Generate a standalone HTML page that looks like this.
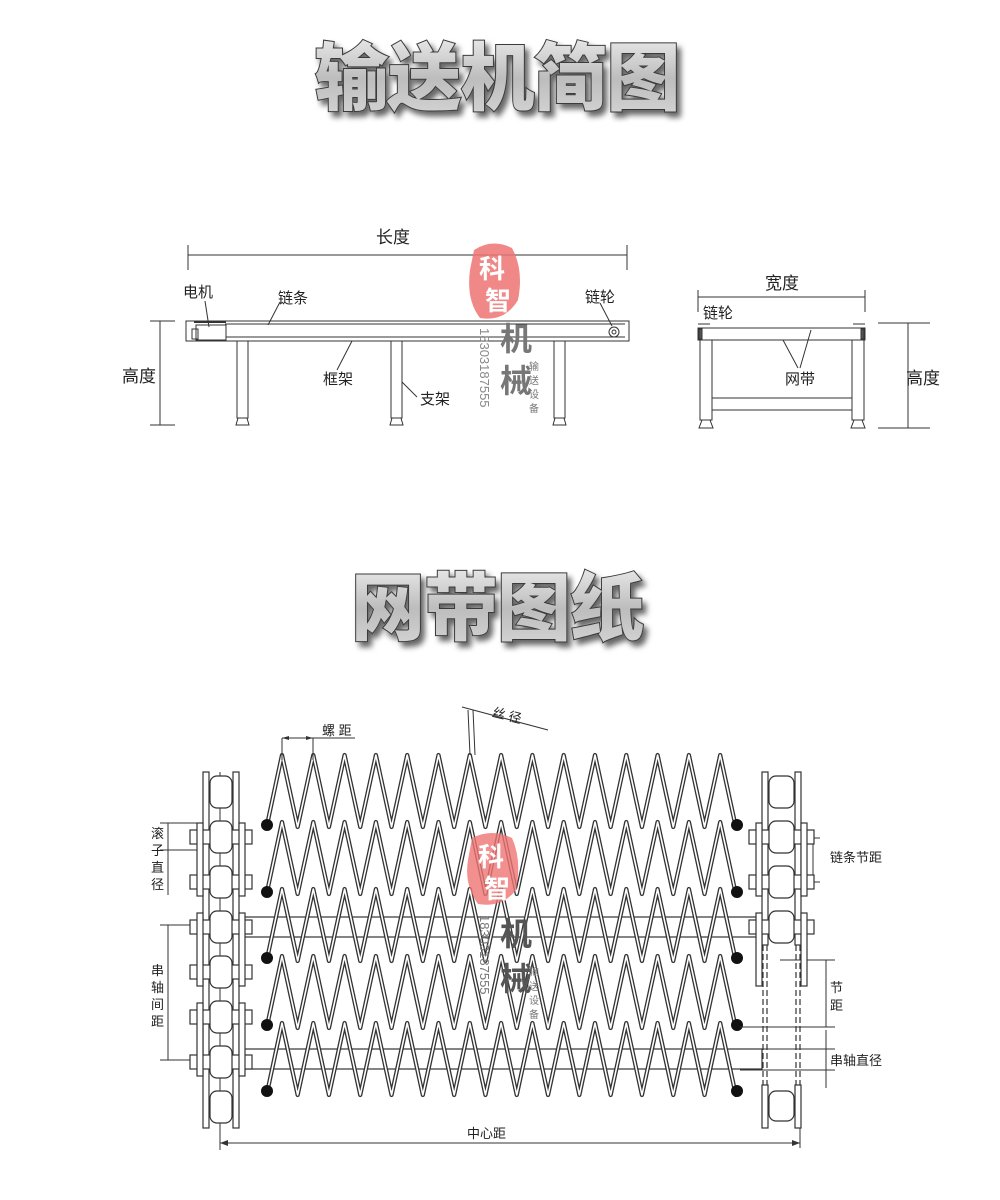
<!DOCTYPE html>
<html><head><meta charset="utf-8"><style>
html,body{margin:0;padding:0;background:#fff;}
svg{display:block;}
.t{font-family:"Liberation Sans","Noto Sans CJK SC",sans-serif;fill:#222;}
.title{font-family:"Liberation Sans","Noto Sans CJK SC",sans-serif;font-weight:900;fill:#c9c9c9;stroke:#3a3a3a;stroke-width:2;paint-order:stroke;}
</style></head><body>
<svg id="s" width="1000" height="1200" viewBox="0 0 1000 1200" xmlns="http://www.w3.org/2000/svg">
<defs>
<filter id="sh" x="-10%" y="-10%" width="130%" height="140%"><feDropShadow dx="4" dy="5" stdDeviation="3" flood-color="#000" flood-opacity="0.6"/></filter>
<linearGradient id="gr" x1="0" y1="0" x2="0" y2="1"><stop offset="0" stop-color="#e8e8e8"/><stop offset="0.5" stop-color="#bdbdbd"/><stop offset="1" stop-color="#d6d6d6"/></linearGradient>
</defs>
<rect width="1000" height="1200" fill="#fff"/>
<text x="497" y="104" text-anchor="middle" font-size="74" class="title" fill="url(#gr)" style="fill:url(#gr)" filter="url(#sh)" letter-spacing="-1">输送机简图</text>
<text x="497" y="634" text-anchor="middle" font-size="74" class="title" style="fill:url(#gr)" filter="url(#sh)" letter-spacing="-1">网带图纸</text>

<g stroke="#333" stroke-width="1" fill="none">
<!-- top side view -->
<line x1="188" y1="255" x2="627" y2="255"/><line x1="188" y1="245" x2="188" y2="270"/><line x1="627" y1="245" x2="627" y2="270"/>
<rect x="186" y="321" width="443" height="20" fill="#fff"/>
<line x1="225" y1="324" x2="625" y2="324"/><line x1="225" y1="337" x2="625" y2="337"/>
<rect x="196" y="325" width="30" height="15" fill="#fff"/><rect x="192" y="329" width="6" height="10"/>
<line x1="194" y1="322" x2="226" y2="322" stroke-width="2"/>
<circle cx="614" cy="332" r="5"/><circle cx="614" cy="332" r="2"/>
<rect x="237" y="341" width="11" height="77" fill="#fff"/><path d="M236 425 L238 418 L247 418 L249 425 Z"/>
<rect x="391" y="341" width="11" height="77" fill="#fff"/><path d="M390 425 L392 418 L401 418 L403 425 Z"/>
<rect x="554" y="341" width="11" height="77" fill="#fff"/><path d="M553 425 L555 418 L564 418 L566 425 Z"/>
<line x1="160" y1="321" x2="160" y2="425"/><line x1="150" y1="321" x2="175" y2="321"/><line x1="150" y1="425" x2="175" y2="425"/>
<line x1="205" y1="301" x2="209" y2="327"/>
<line x1="280" y1="302" x2="268" y2="325"/>
<line x1="352" y1="341" x2="337" y2="370"/>
<line x1="402" y1="382" x2="417" y2="397"/>
<line x1="600" y1="303" x2="612" y2="326"/>
<!-- right side view -->
<line x1="698" y1="297" x2="865" y2="297"/><line x1="698" y1="290" x2="698" y2="312"/><line x1="865" y1="290" x2="865" y2="312"/>
<rect x="698" y="328" width="167" height="12" fill="#fff"/>
<line x1="698" y1="324" x2="710" y2="324"/><line x1="853" y1="324" x2="865" y2="324"/>
<rect x="699" y="329" width="3" height="10" fill="#555"/><rect x="861" y="329" width="3" height="10" fill="#555"/>
<rect x="700" y="340" width="12" height="80"/><rect x="852" y="340" width="12" height="80"/>
<line x1="712" y1="398" x2="852" y2="398"/><line x1="712" y1="410" x2="852" y2="410"/>
<path d="M699 428 L702 420 L710 420 L713 428 Z"/><path d="M851 428 L854 420 L862 420 L865 428 Z"/>
<line x1="783" y1="340" x2="798" y2="368"/><line x1="811" y1="330" x2="800" y2="368"/>
<line x1="908" y1="323" x2="908" y2="428"/><line x1="878" y1="323" x2="930" y2="323"/><line x1="878" y1="428" x2="930" y2="428"/>
</g>
<g class="t" font-size="15">
<text x="376" y="243" font-size="17">长度</text>
<text x="183" y="297">电机</text>
<text x="278" y="303">链条</text>
<text x="585" y="302">链轮</text>
<text x="323" y="384">框架</text>
<text x="420" y="404">支架</text>
<text x="122" y="382" font-size="17">高度</text>
<text x="765" y="289" font-size="17">宽度</text>
<text x="703" y="318">链轮</text>
<text x="785" y="384">网带</text>
<text x="906" y="384" font-size="17">高度</text>
</g>

<!-- watermark 1 -->
<g>
<path d="M474 250 Q492 238 512 248 Q524 270 518 300 Q505 322 480 318 Q466 300 470 270 Z" fill="#ef7373" opacity="0.85"/>
<text x="479" y="278" font-size="26" fill="#fff" font-weight="bold" class="t" style="fill:#fff">科</text>
<text x="485" y="310" font-size="26" fill="#fff" font-weight="bold" class="t" style="fill:#fff">智</text>
<text x="500" y="350" font-size="32" class="t" style="fill:#777" font-weight="bold">机</text>
<text x="500" y="392" font-size="32" class="t" style="fill:#777" font-weight="bold">械</text>
<text transform="translate(480,328) rotate(90)" font-size="13" class="t" style="fill:#888">18303187555</text>
<text x="529" y="370" font-size="10" class="t" style="fill:#777">输</text>
<text x="529" y="384" font-size="10" class="t" style="fill:#777">送</text>
<text x="529" y="398" font-size="10" class="t" style="fill:#777">设</text>
<text x="529" y="412" font-size="10" class="t" style="fill:#777">备</text>
</g>

<g id="mesh"></g>
<g id="chain" stroke="#333" stroke-width="1.2" fill="#fff"></g>
<g class="t" font-size="13">
<text x="322" y="735">螺 距</text>
<text x="492" y="722" transform="rotate(14 515 717)">丝 径</text>
<text x="151" y="838">滚</text><text x="151" y="855">子</text><text x="151" y="872">直</text><text x="151" y="889">径</text>
<text x="151" y="975">串</text><text x="151" y="992">轴</text><text x="151" y="1009">间</text><text x="151" y="1026">距</text>
<text x="830" y="862">链条节距</text>
<text x="830" y="992">节</text><text x="830" y="1010">距</text>
<text x="830" y="1065">串轴直径</text>
<text x="467" y="1138">中心距</text>
</g>
<!-- watermark 2 -->
<g>
<path d="M472 838 Q492 828 512 838 Q522 860 516 890 Q502 908 478 904 Q464 885 468 860 Z" fill="#ef7373" opacity="0.8"/>
<text x="478" y="866" font-size="26" font-weight="bold" class="t" style="fill:#fff">科</text>
<text x="484" y="898" font-size="26" font-weight="bold" class="t" style="fill:#fff">智</text>
<text x="500" y="945" font-size="32" font-weight="bold" class="t" style="fill:#555">机</text>
<text x="500" y="990" font-size="32" font-weight="bold" class="t" style="fill:#555">械</text>
<text transform="translate(480,915) rotate(90)" font-size="13" class="t" style="fill:#777">18303187555</text>
<text x="529" y="975" font-size="10" class="t" style="fill:#777">输</text>
<text x="529" y="990" font-size="10" class="t" style="fill:#777">送</text>
<text x="529" y="1004" font-size="10" class="t" style="fill:#777">设</text>
<text x="529" y="1018" font-size="10" class="t" style="fill:#777">备</text>
</g>
</svg>
<script>
var NS="http://www.w3.org/2000/svg";
function el(p,t,a){var e=document.createElementNS(NS,t);for(var k in a)e.setAttribute(k,a[k]);p.appendChild(e);return e;}
var m=document.getElementById('mesh');
var L=function(x1,y1,x2,y2,w,c){el(m,'line',{x1:x1,y1:y1,x2:x2,y2:y2,stroke:c||'#333','stroke-width':w||1});};
// shafts
[[917,937],[1049,1069]].forEach(function(b){el(m,'rect',{x:243,y:b[0],width:519,height:b[1]-b[0],fill:'#fff',stroke:'#333','stroke-width':1.2});});
// zigzag rows
var P=31.3,x0=282,n=15;
var rows=[755,822,889,956,1023];
rows.forEach(function(y0,k){
  var yv=y0+72;
  var d='M267 '+(y0+70);
  for(var i=0;i<n;i++){var px=x0+i*P;d+=' L'+px+' '+y0+' L'+(px+P/2)+' '+yv;}
  d+=' L737 '+(y0+70);
  el(m,'path',{d:d,fill:'none',stroke:'#333','stroke-width':4.2,'stroke-linejoin':'round'});
  el(m,'path',{d:d,fill:'none',stroke:'#fff','stroke-width':1.6,'stroke-linejoin':'round'});
});
// bottom legs
var d2='';
for(var i=0;i<n;i++){var px=x0+i*P+P/2;}
// dots
rows.concat([1091]).slice(1).forEach(function(y){});
[825,892,958,1025,1091].forEach(function(y){el(m,'circle',{cx:267,cy:y,r:6,fill:'#111'});el(m,'circle',{cx:737,cy:y,r:6,fill:'#111'});});
// dimension lines
L(282,738,282,760);L(313,738,313,760);L(282,738,355,738);
el(m,'path',{d:'M282 738 l7 -2 v4z M313 738 l-7 -2 v4z',fill:'#333'});
L(468,710,470,755);L(473,710,475,755);L(462,707,548,730);
L(220,1143,800,1143);L(220,1110,220,1148);L(800,1110,800,1148);
el(m,'path',{d:'M220 1143 l8 -3 v6z M800 1143 l-8 -3 v6z',fill:'#333'});
// left dims
L(160,823,200,823);L(160,850,200,850);L(168,823,168,895);
L(160,925,250,925);L(160,1060,250,1060);L(168,925,168,1060);
// right dims
L(805,838,820,838);L(805,882,820,882);L(813,838,813,882);
L(780,960,835,960);L(740,1027,835,1027);L(826,960,826,1027);
L(740,1049,835,1049);L(740,1070,835,1070);L(826,1030,826,1088);
// chains
var c=document.getElementById('chain');
function chain(xa,xb,rollers,top,bot,pins,dash){
  el(c,'rect',{x:xa,y:top,width:6,height:bot-top});
  el(c,'rect',{x:xb,y:top,width:6,height:bot-top});
  pins.forEach(function(y){
    el(c,'rect',{x:xa-13,y:y-7,width:xb-xa+32,height:14});
  });
  for(var i=0;i<pins.length;i+=2){var y=pins[i];var y2=pins[i+1]||y+45;
    el(c,'rect',{x:xa-6,y:y-14,width:6,height:y2-y+28});el(c,'rect',{x:xb+6,y:y-14,width:6,height:y2-y+28});}
  rollers.forEach(function(y){el(c,'rect',{x:xa+7,y:y-16,width:xb-xa-8,height:32,rx:7});});
}
chain(203,233,[792,837,882,927,972,1017,1062,1107],772,1128,[837,882,927,972,1017,1062]);
chain(762,795,[792,837,882,927],772,945,[837,882,927]);
// left center line
L(220,772,220,1150);
// right bottom part
el(c,'rect',{x:762,y:1085,width:6,height:43});el(c,'rect',{x:795,y:1085,width:6,height:43});
el(c,'rect',{x:769,y:1091,width:25,height:30,rx:7});
[763,767,796,800].forEach(function(x){el(c,'line',{x1:x,y1:945,x2:x,y2:1085,'stroke-dasharray':'6 3'});});
</script>
</body></html>
